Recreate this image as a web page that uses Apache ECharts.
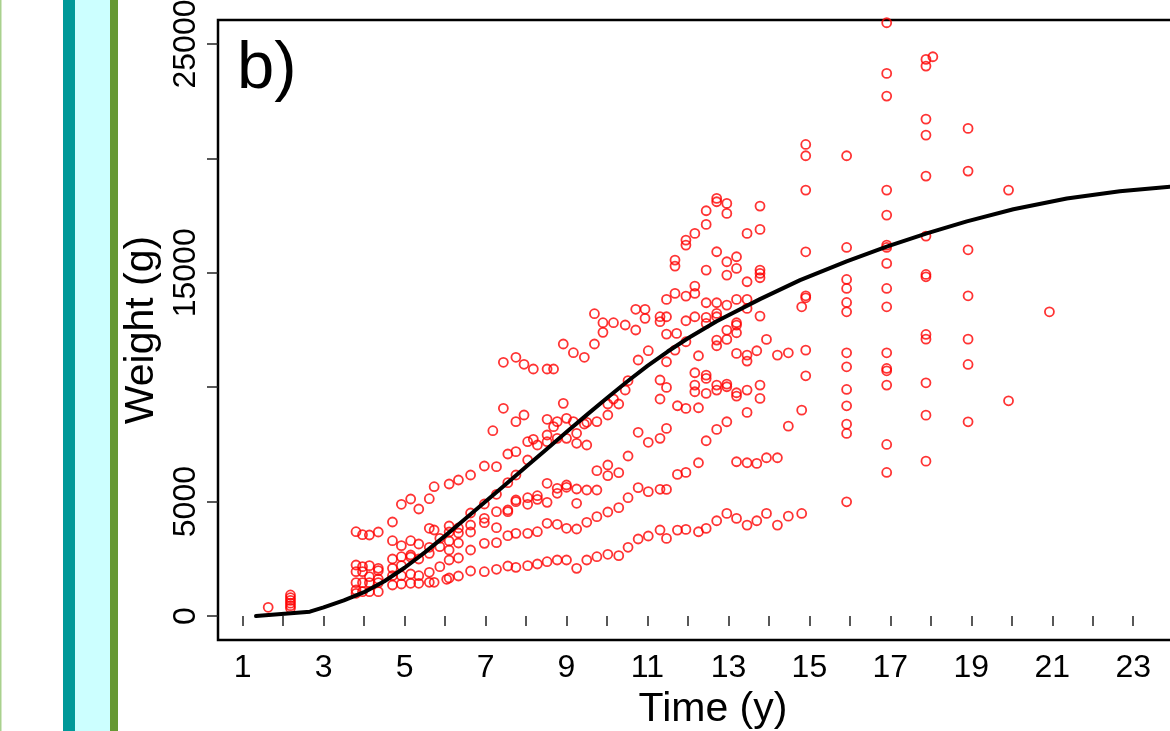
<!DOCTYPE html>
<html><head><meta charset="utf-8">
<script src="https://cdn.jsdelivr.net/npm/echarts@6/dist/echarts.min.js"></script>
<style>html,body{margin:0;padding:0;background:#fff}#c{width:1170px;height:731px}</style>
</head><body><div id="c"></div>
<script>
// observation ages (y), one entry per column of points
const obsAge = [1.63, 2.18, 3.80, 3.96, 4.13, 4.35, 4.70, 4.92, 5.15, 5.35, 5.61, 5.73, 5.87, 6.04, 6.10, 6.33, 6.63, 6.97, 7.18, 7.27, 7.44, 7.55, 7.75, 7.95, 8.04, 8.18, 8.28, 8.52, 8.68, 8.77, 8.92, 9.00, 9.17, 9.25, 9.44, 9.50, 9.69, 9.75, 9.90, 10.02, 10.16, 10.29, 10.45, 10.52, 10.71, 10.77, 10.94, 11.02, 11.31, 11.47, 11.68, 11.72, 11.74, 11.95, 12.17, 12.26, 12.45, 12.71, 12.96, 13.20, 13.46, 13.70, 13.78, 13.94, 14.21, 14.48, 14.81, 14.91, 15.92, 16.91, 17.88, 18.05, 18.92, 19.92, 20.93];
// observed weights (g) at each age above
const obsWeights = [
  [380],
  [920, 800, 680, 560, 450, 340],
  [3684, 2229, 1936, 1456, 1136, 992],
  [3553, 2156, 1936, 1456, 1063],
  [3540, 2200, 1718, 1456, 1063],
  [3671, 2083, 1981, 1617, 1456, 1063],
  [4108, 3291, 2491, 2083, 1761, 1355],
  [4882, 3073, 2592, 2200, 1761, 1399],
  [5114, 3291, 2666, 2579, 1836, 1429],
  [4677, 3147, 2491, 1761, 1429],
  [5127, 3833, 3003, 2740, 1910, 1473],
  [5651, 3759, 1473],
  [3396, 3029, 2156],
  [1604],
  [5769, 3934, 3671, 3277, 2885, 2448, 1661],
  [5944, 3846, 3628, 3190, 2535, 1748],
  [6163, 4502, 3977, 3671, 2885, 1967],
  [6556, 4895, 4270, 4078, 3177, 1936],
  [8099],
  [6527, 5319, 4560, 3861, 3204, 2041],
  [11088, 9078],
  [7080, 5827, 4633, 4560, 3510, 2185],
  [11307, 8493, 7182, 6163, 5070, 4996, 3614, 2127],
  [11001, 8785],
  [7618, 6818, 5170, 4882, 3614, 2200],
  [10795, 7723],
  [7474, 5258, 5100, 3684, 2273],
  [10795, 8597, 7911, 7618, 5800, 4969, 4052, 2373],
  [10795, 8274],
  [8493, 7766, 5581, 5363, 4008, 2448],
  [11888, 9296],
  [8640, 7766, 5726, 5625, 3833, 2448],
  [11508, 8493],
  [7985, 7548, 5551, 4926, 3802, 2083],
  [11307, 8391],
  [8466, 7474, 5507, 4095, 2448],
  [13212, 11888],
  [8493, 6352, 5507, 4342, 2592],
  [12819, 12399],
  [9266, 8785, 6600, 6133, 4545, 2697],
  [12819, 9484],
  [9266, 6265, 4734, 2637],
  [12718, 9878],
  [10285, 6993, 5170, 3003],
  [13405, 12500],
  [11189, 8029, 5608, 3365],
  [13405, 13011],
  [11595, 7592, 5433, 3496],
  [13081, 12862, 10315, 9484, 7766, 5538, 3759],
  [13837, 13079, 12322, 11112, 9991, 8198, 5532, 3390],
  [15556, 15294, 14099, 11622],
  [12351],
  [9189, 6188, 3755],
  [16430, 16212, 13983, 12904, 11987, 9073, 6275, 3784],
  [16722, 14420, 14099, 13079, 10632, 10092, 9801],
  [11375, 9102, 6698, 3682],
  [17713, 17115, 15119, 13691, 13050, 12788, 10530, 10384, 9728, 7659, 3827],
  [18252, 18106, 15921, 13691, 13225, 13079, 12060, 11812, 10092, 9874, 8155, 4163],
  [18033, 17596, 15483, 14901, 13589, 12497, 12089, 10136, 10020, 8490, 4483],
  [15702, 15192, 13837, 12817, 12715, 12380, 11477, 9757, 9611, 6742, 4264],
  [16722, 14609, 13837, 13443, 11404, 11142, 9874, 8898, 6698, 3973],
  [11593, 6669, 4163],
  [17917, 16897, 15119, 14973, 14784, 13108, 10092, 9510],
  [12089, 6916, 4483],
  [11404, 6916, 3973],
  [11504, 8298, 4365],
  [13514, 8998, 4481],
  [20610, 20115, 18614, 15918, 13995, 13908, 11620, 10499],
  [20115, 16108, 14709, 14316, 13704, 13296, 11504, 10892, 9901, 9187, 8386, 7978, 4991],
  [25928, 23714, 22723, 18614, 17521, 16210, 16108, 15409, 14316, 13514, 11504, 10819, 10717, 10091, 7497, 6273],
  [24326, 24034, 21717, 21018, 19226, 16603, 14928, 14826, 12305, 12101, 10193, 8779, 6768],
  [24442],
  [21310, 19445, 16006, 13995, 12101, 10994, 8488],
  [18614, 9406],
  [13296]
];
// fitted growth curve
const fitAge    = [1.33, 2.66, 3.00, 3.50, 4.00, 4.50, 5.00, 5.50, 6.00, 6.50, 7.00, 7.50, 8.00, 8.50, 9.00, 9.50, 10.00, 10.50, 11.00, 11.50, 12.00, 12.71, 13.78, 14.77, 15.92, 16.91, 17.90, 18.89, 20.04, 21.36, 22.67, 23.91];
const fitWeight = [0, 188, 375, 680, 1040, 1520, 2110, 2780, 3500, 4250, 5005, 5760, 6520, 7280, 8040, 8790, 9530, 10250, 10930, 11560, 12140, 12880, 13850, 14680, 15500, 16140, 16720, 17250, 17780, 18250, 18560, 18760];
// axes
const xTickValues  = [1,2,3,4,5,6,7,8,9,10,11,12,13,14,15,16,17,18,19,20,21,22,23,24];
const xLabelValues = [1,3,5,7,9,11,13,15,17,19,21,23];
const yTickValues  = [0,5000,10000,15000,20000,25000];
const yLabelValues = [0,5000,15000,25000];

const scatterData = [];
obsAge.forEach((a, i) => obsWeights[i].forEach(w => scatterData.push([a, w])));
const fitData = fitAge.map((a, i) => [a, fitWeight[i]]);

const FONT = '"Liberation Sans", Arial, Helvetica, sans-serif';
const chart = echarts.init(document.getElementById('c'), null, {renderer: 'canvas'});
chart.setOption({
  animation: false,
  backgroundColor: '#ffffff',
  title: {
    text: 'b)', left: 237, top: 36, padding: 0,
    textStyle: {fontSize: 67, fontWeight: 'normal', color: '#000', fontFamily: FONT}
  },
  graphic: [
    {type: 'rect', silent: true, shape: {x: 0, y: 0, width: 1.5, height: 731}, style: {fill: '#a9d18e'}},
    {type: 'rect', silent: true, shape: {x: 63, y: 0, width: 12, height: 731}, style: {fill: '#009999'}},
    {type: 'rect', silent: true, shape: {x: 75, y: 0, width: 35, height: 731}, style: {fill: '#ccffff'}},
    {type: 'rect', silent: true, shape: {x: 110, y: 0, width: 8, height: 731}, style: {fill: '#669933'}}
  ],
  grid: {left: 218, top: 20, right: -30, bottom: 91, outerBoundsMode: 'none', containLabel: false,
    show: true, borderColor: '#000', borderWidth: 2.5, backgroundColor: 'transparent'},
  xAxis: {
    type: 'value', min: 0.39, max: 24.65,
    name: 'Time (y)', nameLocation: 'middle', nameGap: 42,
    nameTextStyle: {fontSize: 41, color: '#000', fontFamily: FONT, padding: [0, 0, 0, 8]},
    axisLine: {show: false}, splitLine: {show: false},
    axisTick: {show: true, length: 10, customValues: xTickValues, lineStyle: {color: '#222', width: 1.5}},
    axisLabel: {customValues: xLabelValues, fontSize: 32, color: '#000', margin: 12, fontFamily: FONT}
  },
  yAxis: {
    type: 'value', min: -1049, max: 26049,
    name: 'Weight (g)', nameLocation: 'middle', nameGap: 53, nameRotate: 90,
    nameTextStyle: {fontSize: 41, color: '#000', fontFamily: FONT},
    axisLine: {show: false}, splitLine: {show: false},
    axisTick: {show: true, length: 11, customValues: yTickValues, lineStyle: {color: '#222', width: 1.5}},
    axisLabel: {customValues: yLabelValues, rotate: 90, fontSize: 32, color: '#000', margin: 16, fontFamily: FONT,
      formatter: v => String(v)}
  },
  series: [
    {type: 'scatter', data: scatterData, symbol: 'circle', symbolSize: 9, silent: true,
      itemStyle: {color: 'rgba(255,255,255,0)', borderColor: '#ff0000', borderWidth: 1.8}},
    {type: 'line', data: fitData, showSymbol: false, smooth: false, silent: true,
      lineStyle: {color: '#000', width: 4, join: 'round', cap: 'round'}}
  ]
});
</script></body></html>
